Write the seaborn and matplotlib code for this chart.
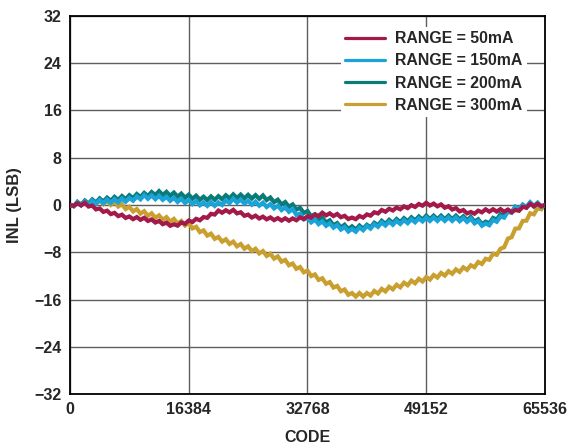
import numpy as np
import pandas as pd
import seaborn as sns
import matplotlib.pyplot as plt

# DAC input code (x) and INL in LSB for each output range
code = np.arange(129) * 512

inl_50ma = [
    0, -0.15, 0.29, -0.06, 0.38, -0.26, -0.1, -0.74, -0.58, -1.17,
    -0.96, -1.54, -1.33, -1.88, -1.64, -2.19, -1.94, -2.4, -2.05, -2.51,
    -2.16, -2.7, -2.44, -2.97, -2.71, -3.25, -2.99, -3.52, -3.26, -3.5,
    -2.95, -3.19, -2.63, -2.88, -2.34, -2.59, -2.04, -2.17, -1.49, -1.62,
    -0.94, -1.31, -0.88, -1.25, -0.82, -1.42, -1.23, -1.83, -1.63, -2.12,
    -1.8, -2.29, -1.97, -2.43, -2.1, -2.56, -2.22, -2.63, -2.25, -2.66,
    -2.27, -2.58, -2.09, -2.39, -1.9, -2.15, -1.6, -1.85, -1.3, -1.76,
    -1.41, -1.87, -1.52, -2.07, -1.83, -2.38, -2.13, -2.4, -1.86, -2.13,
    -1.59, -1.8, -1.22, -1.43, -0.84, -1.14, -0.64, -0.93, -0.43, -0.73,
    -0.23, -0.53, -0.03, -0.33, 0.17, -0.12, 0.38, -0.09, 0.24, -0.23,
    0.1, -0.46, -0.21, -0.77, -0.52, -1.09, -0.85, -1.42, -1.18, -1.47,
    -0.96, -1.24, -0.73, -1.12, -0.72, -1.11, -0.7, -1.14, -0.77, -1.21,
    -0.84, -0.98, -0.32, -0.46, 0.2, -0.2, 0.2, -0.2, 0,
]

inl_150ma = [
    0, -0.22, 0.46, -0.06, 0.62, 0.08, 0.74, 0.2, 0.86, 0.29,
    0.93, 0.36, 0.99, 0.44, 1.1, 0.55, 1.2, 0.72, 1.44, 0.96,
    1.68, 1.05, 1.62, 0.98, 1.55, 0.87, 1.38, 0.7, 1.21, 0.52,
    1.03, 0.34, 0.85, 0.15, 0.65, -0.05, 0.45, -0.15, 0.45, -0.16,
    0.44, 0.0, 0.77, 0.33, 1.09, 0.4, 0.92, 0.23, 0.74, 0.05,
    0.57, -0.12, 0.39, -0.34, 0.14, -0.59, -0.11, -0.86, -0.4, -1.15,
    -0.69, -1.67, -1.45, -2.42, -2.2, -2.95, -2.49, -3.24, -2.78, -3.53,
    -3.09, -3.84, -3.39, -4.16, -3.72, -4.49, -4.05, -4.53, -3.8, -4.28,
    -3.55, -4.0, -3.25, -3.7, -2.95, -3.48, -2.82, -3.35, -2.68, -3.21,
    -2.55, -3.08, -2.41, -2.93, -2.26, -2.78, -2.11, -2.7, -2.1, -2.7,
    -2.1, -2.7, -2.1, -2.7, -2.1, -2.75, -2.21, -2.86, -2.31, -3.11,
    -2.71, -3.52, -3.12, -3.43, -2.54, -2.84, -1.95, -2.14, -1.14, -1.33,
    -0.32, -0.72, 0.07, -0.33, 0.47, -0.17, 0.39, -0.26, 0,
]

inl_200ma = [
    0, -0.19, 0.53, 0.04, 0.75, 0.24, 0.94, 0.43, 1.12, 0.59,
    1.25, 0.72, 1.38, 0.85, 1.52, 0.99, 1.66, 1.16, 1.86, 1.35,
    2.05, 1.53, 2.2, 1.68, 2.35, 1.69, 2.23, 1.56, 2.1, 1.41,
    1.93, 1.24, 1.75, 1.06, 1.58, 0.89, 1.4, 0.83, 1.45, 0.88,
    1.5, 0.98, 1.65, 1.13, 1.8, 1.18, 1.76, 1.14, 1.72, 1.1,
    1.67, 1.05, 1.62, 0.84, 1.26, 0.48, 0.9, 0.1, 0.5, -0.3,
    0.1, -0.78, -0.47, -1.35, -1.03, -1.9, -1.58, -2.45, -2.12, -2.96,
    -2.59, -3.43, -3.06, -3.8, -3.34, -4.07, -3.61, -4.15, -3.48, -4.02,
    -3.35, -3.78, -3.01, -3.44, -2.67, -3.2, -2.52, -3.05, -2.37, -2.9,
    -2.23, -2.75, -2.08, -2.61, -1.94, -2.47, -1.8, -2.4, -1.8, -2.4,
    -1.8, -2.4, -1.8, -2.4, -1.8, -2.45, -1.91, -2.56, -2.01, -2.81,
    -2.42, -3.22, -2.82, -3.1, -2.19, -2.47, -1.55, -1.84, -0.93, -1.21,
    -0.3, -0.74, 0.02, -0.41, 0.35, -0.26, 0.33, -0.29, 0,
]

inl_300ma = [
    0, -0.21, 0.48, -0.04, 0.65, 0.09, 0.73, 0.16, 0.8, 0.14,
    0.68, 0.01, 0.55, -0.26, 0.12, -0.69, -0.3, -1.09, -0.68, -1.46,
    -1.05, -1.83, -1.4, -2.18, -1.75, -2.5, -2.05, -2.8, -2.35, -3.13,
    -2.7, -3.48, -3.05, -3.96, -3.68, -4.59, -4.3, -5.18, -4.85, -5.73,
    -5.4, -6.2, -5.8, -6.6, -6.2, -7.0, -6.6, -7.4, -7.0, -7.8,
    -7.4, -8.2, -7.8, -8.63, -8.25, -9.08, -8.7, -9.6, -9.3, -10.2,
    -9.9, -10.8, -10.5, -11.4, -11.1, -12.03, -11.75, -12.68, -12.4, -13.33,
    -13.05, -13.98, -13.7, -14.6, -14.3, -15.2, -14.9, -15.5, -14.9, -15.5,
    -14.9, -15.33, -14.55, -14.98, -14.2, -14.63, -13.85, -14.28, -13.5, -13.93,
    -13.15, -13.58, -12.8, -13.25, -12.5, -12.95, -12.2, -12.63, -11.85, -12.28,
    -11.5, -11.95, -11.2, -11.65, -10.9, -11.33, -10.55, -10.98, -10.2, -10.53,
    -9.65, -9.98, -9.1, -9.28, -8.25, -8.43, -7.4, -7.15, -5.7, -5.45,
    -4.0, -3.95, -2.7, -2.65, -1.4, -1.58, -0.55, -0.73, 0,
]

labels = ["RANGE = 50mA", "RANGE = 150mA", "RANGE = 200mA", "RANGE = 300mA"]
colors = ["#A3194A", "#1AA3D9", "#0A7B78", "#C99F2F"]
series = [inl_50ma, inl_150ma, inl_200ma, inl_300ma]

x_ticks = [0, 16384, 32768, 49152, 65536]
y_ticks = [-32, -24, -16, -8, 0, 8, 16, 24, 32]

sns.set_theme(style="white")
plt.rcParams["font.family"] = ["Liberation Sans", "DejaVu Sans"]
plt.rcParams["font.weight"] = "bold"

fig = plt.figure(figsize=(5.68, 4.48), dpi=100)
ax = fig.add_axes([0.1232, 0.1205, 0.8363, 0.8438])

# 300mA at the bottom, 50mA on top
zorders = [5, 4, 3, 2]
for lab, col, vals, z in zip(labels, colors, series, zorders):
    df = pd.DataFrame({"code": code, "inl": vals})
    sns.lineplot(data=df, x="code", y="inl", ax=ax, color=col, lw=3.0,
                 label=lab, zorder=z, solid_joinstyle="miter")

ax.set_xlim(0, 65536)
ax.set_ylim(-32, 32)
ax.set_xticks(x_ticks)
ax.set_yticks(y_ticks)
ax.set_xticklabels([str(t) for t in x_ticks])
ax.set_yticklabels([str(t).replace("-", "\u2212") for t in y_ticks])
ax.tick_params(length=0, labelsize=11.5, pad=6)
for t in ax.get_xticklabels() + ax.get_yticklabels():
    t.set_fontweight("bold")
ax.grid(True, color="#5e5e5e", lw=1.0)
ax.set_axisbelow(True)
for s in ax.spines.values():
    s.set_color("black")
    s.set_linewidth(1.3)

ax.set_xlabel("CODE", fontsize=11.5, fontweight="bold", labelpad=9)
ax.set_ylabel("INL (LSB)", fontsize=12, fontweight="bold", labelpad=9)

leg = ax.legend(loc="upper right", bbox_to_anchor=(0.963, 0.972),
                frameon=True, facecolor="white", edgecolor="none", framealpha=1,
                fancybox=False, fontsize=11.4, handlelength=2.5,
                handletextpad=0.65, labelspacing=0.45, borderpad=0.3,
                borderaxespad=0)
for line in leg.get_lines():
    line.set_linewidth(2.3)
for t in leg.get_texts():
    t.set_fontweight("bold")
leg.set_zorder(10)

fig.savefig("out.png", dpi=100)
